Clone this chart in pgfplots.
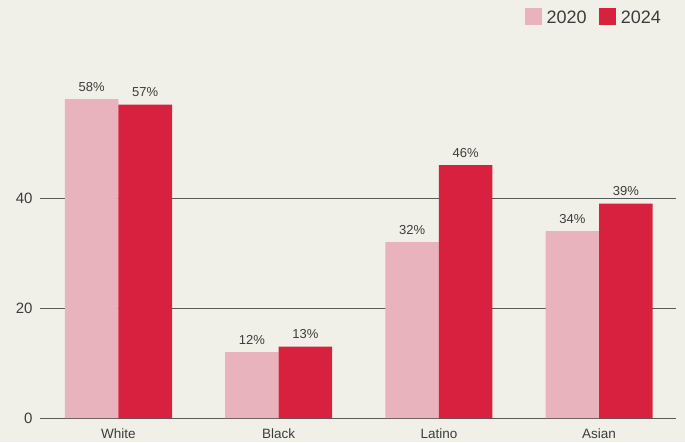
\documentclass[border=0pt]{standalone}
\usepackage{pgfplots}
\pgfplotsset{compat=1.18}
\usepackage{fontspec}
\setmainfont{Liberation Sans}
\definecolor{bg}{HTML}{F1F0E8}
\definecolor{pinkbar}{HTML}{E8B3BC}
\definecolor{redbar}{HTML}{D8203F}
\definecolor{txt}{HTML}{3C3C3C}
\definecolor{gridc}{HTML}{5A5A56}
\begin{document}
\begin{tikzpicture}
	\fill[bg] (-40pt,-24pt) rectangle (645pt,418pt);
	\begin{axis}[
			at={(0pt,0pt)}, anchor=south west,
			scale only axis,
			width=636pt, height=418pt,
			ybar=0pt, bar width=53.5pt,
			xmin=-0.49, xmax=3.48,
			ymin=0, ymax=76,
			xtick=data,
			xticklabels={White,Black,Latino,Asian},
			ytick={0,20,40},
			axis line style={draw=none},
			major tick length=0pt,
			ymajorgrids,
			grid style={gridc, line width=0.8pt},
			axis on top=false,
			/pgf/number format/assume math mode=true,
			yticklabel style={font=\fontsize{15}{17}\selectfont, text=txt, xshift=-4pt},
			xticklabel style={font=\fontsize{13.5}{16}\selectfont, text=txt, yshift=-7pt},
			nodes near coords={\pgfmathprintnumber{\pgfplotspointmeta}\%},
			every node near coord/.append style={font=\fontsize{13}{15}\selectfont, text=txt, yshift=4pt},
			legend columns=2,
			legend style={at={(1,1)}, anchor=north east, xshift=-10pt, yshift=-6pt,
				draw=none, fill=none, font=\fontsize{18}{21}\selectfont, text=txt,
				/tikz/every even column/.append style={column sep=10pt}},
			legend image code/.code={\fill[#1] (0pt,-7pt) rectangle (17pt,10pt); \path (20pt,0pt);},
		]
		\addplot[fill=pinkbar, draw=none] coordinates {(0,58) (1,12) (2,32) (3,34)};
		\addlegendentry{2020}
		\addplot[fill=redbar, draw=none] coordinates {(0,57) (1,13) (2,46) (3,39)};
		\addlegendentry{2024}
	\end{axis}
\end{tikzpicture}
\end{document}
